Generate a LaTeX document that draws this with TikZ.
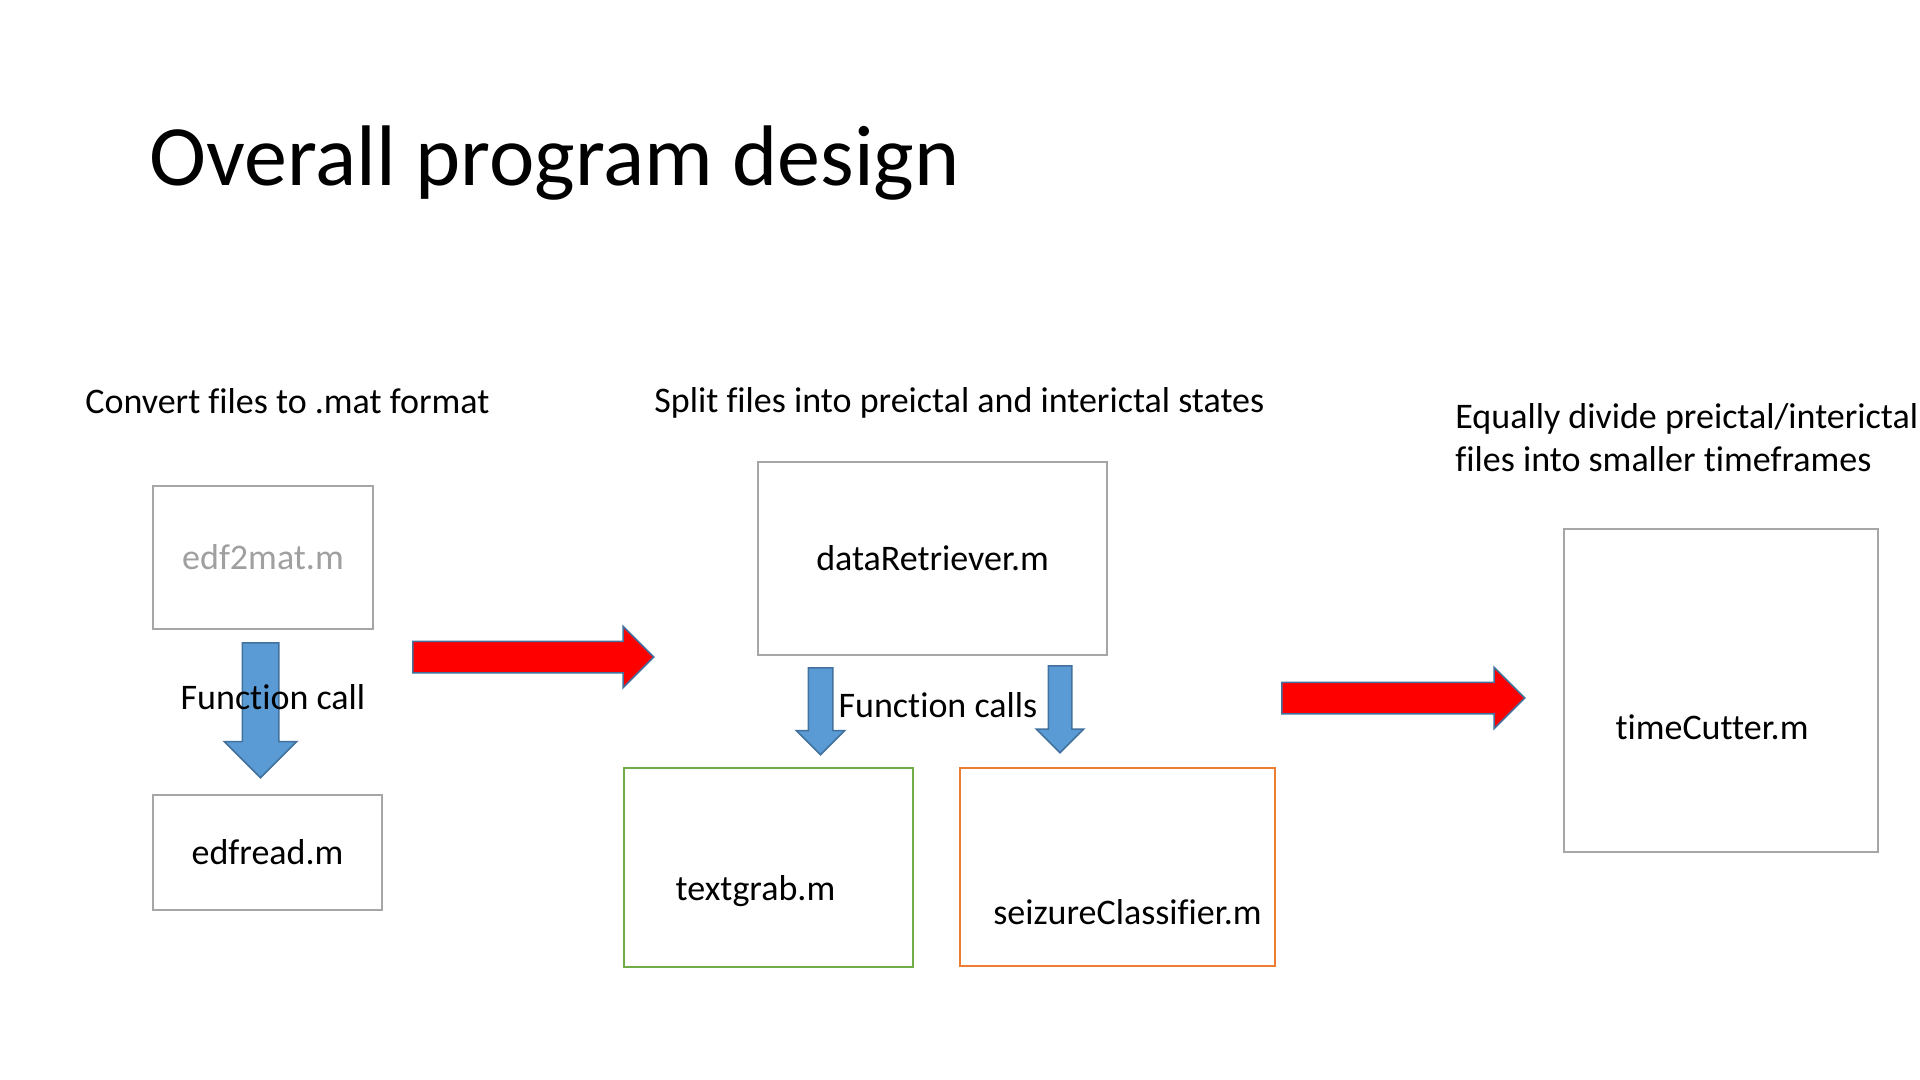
\documentclass[tikz,border=0pt]{standalone}
\usepackage{fontspec}
\setmainfont{Carlito}[Ligatures=CommonOff]
\usepackage{xcolor}
\usetikzlibrary{positioning,shapes.arrows}
\definecolor{boxgray}{HTML}{A6A6A6}
\definecolor{namegray}{HTML}{A0A0A0}
\definecolor{callgreen}{HTML}{70AD47}
\definecolor{callorange}{HTML}{ED7D31}
\definecolor{callblue}{HTML}{5B9BD5}
\definecolor{arrowedge}{HTML}{41719C}

\begin{document}
\begin{tikzpicture}[
    x=0.5pt, y=-0.5pt,
    txt/.style={inner sep=0pt, font=\fontsize{18}{21.6}\selectfont},
    box/.style={draw=boxgray, line width=1pt, inner sep=0pt,
                align=center, font=\fontsize{18}{21.6}\selectfont},
    callarrow/.style={shape=single arrow, draw=arrowedge, fill=callblue,
                      line width=0.75pt, inner xsep=0pt, rotate=-90,
                      anchor=tail},
    passarrow/.style={shape=single arrow, draw=arrowedge, fill=red,
                      line width=0.75pt, inner xsep=0pt, inner ysep=7.5pt,
                      anchor=tail, single arrow head extend=7.5pt},
  ]
  \fill[white] (0,0) rectangle (1920,1080);
  \useasboundingbox (0,0) rectangle (1920,1080);

  % Title
  \node[txt, anchor=base west, font=\fontsize{43}{51.6}\selectfont] (title)
    at (149,186) {Overall program design};

  % Stage headings
  \node[txt, anchor=base west] (convhead) at (85,413) {Convert files to .mat format};
  \node[txt, anchor=base west] (splithead) at (654,412)
    {Split files into preictal and interictal states};
  \node[txt, anchor=north west, align=left] (dividehead) at (1455,403)
    {Equally divide preictal/interictal\\files into smaller timeframes};

  % Stage 1: conversion
  \node[box, text=namegray, minimum width=110pt, minimum height=71.5pt]
    (edf2mat) at (263,557.5) {edf2mat.m};
  \node[box, minimum width=114.5pt, minimum height=57.5pt]
    (edfread) at (267.5,852.5) {edfread.m};
  \node[callarrow, inner ysep=8.75pt, minimum height=67.5pt,
        single arrow head extend=9pt] (call1) at (260.5,642) {};
  \node[txt, anchor=base] (call1lbl) at (273,709) {Function call};

  % Stage 2: splitting
  \node[box, minimum width=174.5pt, minimum height=96.5pt]
    (retriever) at (932.5,558.5) {dataRetriever.m};
  \node[box, draw=callgreen, minimum width=144.5pt, minimum height=99.5pt,
        label={[txt, xshift=-6.5pt, yshift=-12pt]center:textgrab.m}]
    (textgrab) at (768.5,867.5) {};
  \node[box, draw=callorange, minimum width=157.5pt, minimum height=99pt,
        label={[txt, xshift=5pt, yshift=-22.5pt]center:seizureClassifier.m}]
    (classifier) at (1117.5,867) {};
  \node[callarrow, inner ysep=5.75pt, minimum height=43.5pt,
        single arrow head extend=6pt] (call2) at (820.5,667) {};
  \node[callarrow, inner ysep=5.5pt, minimum height=43.5pt,
        single arrow head extend=6pt] (call3) at (1060,665) {};
  \node[txt, anchor=base] (call2lbl) at (938,717) {Function calls};

  % Stage 3: cutting
  \node[box, minimum width=157pt, minimum height=161.5pt,
        label={[txt, xshift=-4.5pt, yshift=-18.5pt]center:timeCutter.m}]
    (cutter) at (1721,690.5) {};

  % Arrows between stages
  \node[passarrow, minimum height=120.5pt] (pass1) at (412,657) {};
  \node[passarrow, minimum height=121.5pt] (pass2) at (1281,698) {};

\end{tikzpicture}
\end{document}
